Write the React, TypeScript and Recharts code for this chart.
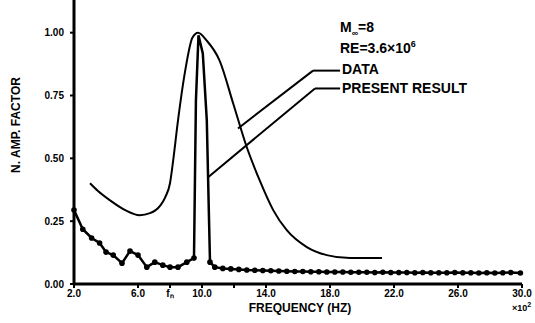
import { LineChart, Line, XAxis, YAxis, ReferenceLine } from 'recharts'

// frequency (x100 Hz) and normalised amplification factor
const dataFreq = [3.0, 3.5, 4.25, 5.2, 6.1, 6.75, 7.4, 7.7, 8.0, 8.2, 8.5, 8.95, 9.4, 9.75, 10.3, 11.1, 11.95, 12.8, 13.6, 14.45, 15.3, 16.55, 17.8, 19.25, 21.25]
const dataAmp = [0.401, 0.37, 0.333, 0.294, 0.274, 0.282, 0.313, 0.345, 0.401, 0.492, 0.651, 0.849, 0.98, 1.0, 0.968, 0.889, 0.718, 0.544, 0.413, 0.294, 0.214, 0.147, 0.115, 0.103, 0.103]

const resultFreq = [2.0, 2.55, 3.1, 3.6, 4.0, 4.45, 5.0, 5.5, 6.0, 6.55, 7.05, 7.55, 8.0, 8.5, 9.05, 9.5, 9.62, 9.78, 10.05, 10.3, 10.44, 10.5, 10.8, 11.3, 11.8, 12.3, 12.8, 13.3, 13.8, 14.3, 14.8, 15.3, 15.8, 16.3, 16.8, 17.3, 17.8, 18.3, 18.8, 19.3, 19.8, 20.3, 20.8, 21.3, 21.8, 22.3, 22.8, 23.3, 23.8, 24.3, 24.8, 25.3, 25.8, 26.3, 26.8, 27.3, 27.8, 28.3, 28.8, 29.3, 29.9]
const resultAmp = [0.294, 0.218, 0.183, 0.163, 0.127, 0.115, 0.083, 0.131, 0.115, 0.067, 0.087, 0.075, 0.067, 0.067, 0.087, 0.103, 0.73, 0.99, 0.917, 0.651, 0.254, 0.087, 0.067, 0.062, 0.06, 0.058, 0.056, 0.055, 0.054, 0.053, 0.052, 0.051, 0.05, 0.05, 0.049, 0.049, 0.048, 0.048, 0.048, 0.047, 0.047, 0.047, 0.046, 0.047, 0.046, 0.046, 0.046, 0.045, 0.046, 0.045, 0.045, 0.045, 0.046, 0.045, 0.045, 0.044, 0.045, 0.044, 0.045, 0.046, 0.044]
// points on the sharp peak are drawn without a marker
const peakPoints = [16, 17, 18, 19, 20]

const xTicks = [2, 6, 8, 10, 12, 14, 18, 22, 26, 30]
const yTicks = [0, 0.25, 0.5, 0.75, 1.0]

const dataSeries = dataFreq.map((f, i) => ({ f, amp: dataAmp[i] }))
const resultSeries = resultFreq.map((f, i) => ({ f, amp: resultAmp[i] }))

const font = '"Liberation Sans", Arial, sans-serif'
const tickStyle = { fill: '#000', fontSize: 10, fontWeight: 700, fontFamily: font }

const xLabel = (v: number) => (v === 8 ? 'fₙ' : v === 12 ? '' : v.toFixed(1))

const ResultDot = (props: any) => {
    const { cx, cy, index } = props
    if (peakPoints.includes(index) || cx == null) return <g key={index} />
    return <circle key={index} cx={cx} cy={cy} r={2.8} fill="#000" />
}

export default function App() {
    return (
        <div style={{ position: 'absolute', left: 0, top: 0, width: 535, height: 323, background: '#fff', fontFamily: font, color: '#000' }}>
            <LineChart width={535} height={323} margin={{ top: 0, right: 13, bottom: 0, left: 0 }}>
                <XAxis
                    type="number"
                    dataKey="f"
                    domain={[2, 30]}
                    ticks={xTicks}
                    tickFormatter={xLabel}
                    interval={0}
                    height={39}
                    tick={tickStyle}
                    tickSize={4}
                    tickMargin={2}
                    axisLine={{ stroke: '#000', strokeWidth: 3 }}
                    tickLine={{ stroke: '#000', strokeWidth: 2 }}
                />
                <YAxis
                    type="number"
                    domain={[0, 1.13]}
                    ticks={yTicks}
                    tickFormatter={(v: number) => v.toFixed(2)}
                    width={74}
                    tick={tickStyle}
                    tickSize={4}
                    tickMargin={6}
                    axisLine={{ stroke: '#000', strokeWidth: 3 }}
                    tickLine={{ stroke: '#000', strokeWidth: 2 }}
                />
                <Line
                    data={dataSeries}
                    dataKey="amp"
                    type="monotone"
                    stroke="#000"
                    strokeWidth={2}
                    dot={false}
                    isAnimationActive={false}
                />
                <Line
                    data={resultSeries}
                    dataKey="amp"
                    type="linear"
                    stroke="#000"
                    strokeWidth={2.5}
                    dot={ResultDot}
                    isAnimationActive={false}
                />
                {/* leader lines */}
                <ReferenceLine segment={[{ x: 12.25, y: 0.619 }, { x: 16.94, y: 0.849 }]} stroke="#000" strokeWidth={2} />
                <ReferenceLine segment={[{ x: 16.94, y: 0.849 }, { x: 18.63, y: 0.849 }]} stroke="#000" strokeWidth={2} />
                <ReferenceLine segment={[{ x: 10.38, y: 0.425 }, { x: 17.06, y: 0.778 }]} stroke="#000" strokeWidth={2} />
                <ReferenceLine segment={[{ x: 17.06, y: 0.778 }, { x: 18.63, y: 0.778 }]} stroke="#000" strokeWidth={2} />
            </LineChart>

            <div style={{ position: 'absolute', left: 340, top: 20, fontSize: 14, fontWeight: 700, lineHeight: '15px' }}>
                M<sub style={{ fontSize: 9 }}>∞</sub>=8
            </div>
            <div style={{ position: 'absolute', left: 340, top: 37, fontSize: 14, fontWeight: 700, lineHeight: '15px' }}>
                RE=3.6×10<sup style={{ fontSize: 9 }}>6</sup>
            </div>
            <div style={{ position: 'absolute', left: 342, top: 62, fontSize: 14, fontWeight: 700, lineHeight: '15px' }}>DATA</div>
            <div style={{ position: 'absolute', left: 342, top: 81, fontSize: 14, fontWeight: 700, lineHeight: '15px' }}>PRESENT RESULT</div>

            <div style={{ position: 'absolute', left: 235, top: 301, width: 130, textAlign: 'center', fontSize: 12, fontWeight: 700 }}>FREQUENCY (HZ)</div>
            <div style={{ position: 'absolute', left: 512, top: 301, fontSize: 9, fontWeight: 700 }}>
                ×10<sup style={{ fontSize: 7 }}>2</sup>
            </div>
            <div
                style={{
                    position: 'absolute',
                    left: 16,
                    top: 125,
                    transform: 'translate(-50%, -50%) rotate(-90deg)',
                    whiteSpace: 'nowrap',
                    fontSize: 12,
                    fontWeight: 700,
                }}
            >
                N. AMP. FACTOR
            </div>
        </div>
    )
}
